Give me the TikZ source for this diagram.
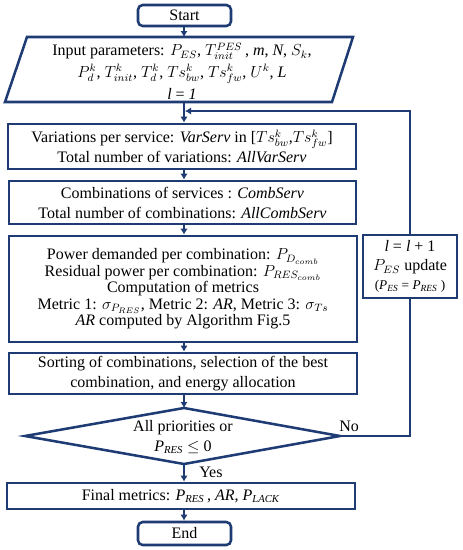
\documentclass[tikz,border=0pt]{standalone}
\usepackage{fontspec}
\setmainfont{Liberation Serif}
\usetikzlibrary{arrows.meta,calc}
\definecolor{navy}{HTML}{1F3B73}
\begin{document}
\begin{tikzpicture}[x=0.75pt,y=-0.75pt,
  box/.style={draw=navy,line width=1.9pt,fill=white,align=center,inner sep=0pt,font=\fontsize{12}{15}\selectfont},
  term/.style={box,rounded corners=3.5pt},
  txt/.style={align=center,inner sep=0pt,font=\fontsize{12}{15}\selectfont},
  conn/.style={draw=navy,line width=1.5pt},
  arr/.style={conn,-{Latex[length=4.5pt,width=5.5pt]}},
  lbl/.style={inner sep=0pt,font=\fontsize{12}{13}\selectfont}]
\useasboundingbox (0,0) rectangle (463,550);
\coordinate (col) at (184,0);
% terminals
\node[term,minimum width=69.75pt,minimum height=15.75pt] (start) at (184.5,15.5) {Start};
% input parallelogram
\coordinate (p1) at (27,37);
\coordinate (p2) at (353,37);
\coordinate (p3) at (332,102);
\coordinate (p4) at (5,102);
\draw[navy,line width=1.9pt,line join=miter] (p1) -- (p2) -- (p3) -- (p4) -- cycle;
\coordinate (inptop) at (184,37);
\coordinate (inpbot) at (184,102);
\node[txt,font=\fontsize{12}{16.2}\selectfont] (inp) at (182,71)
  {Input parameters: $P_{ES}$, $T_{init}^{PES}$\,, \textit{m}, \textit{N}, $S_k$,\\
   $P_d^k$, $T_{init}^k$, $T_d^k$, $Ts_{bw}^k$, $Ts_{fw}^k$, $U^k$, \textit{L}\\
   \textit{l} = \textit{1}};
% process boxes
\node[box,minimum width=261pt,minimum height=33.75pt] (var) at (182,146.5)
  {Variations per service: \textit{VarServ} in [$Ts_{bw}^k$,$Ts_{fw}^k$]\\
   Total number of variations: \textit{AllVarServ}};
\node[box,minimum width=260.25pt,minimum height=32.25pt] (comb) at (182.5,202.5)
  {Combinations of services : \textit{CombServ}\\
   Total number of combinations: \textit{AllCombServ}};
\node[box,minimum width=261pt,minimum height=79.5pt,font=\fontsize{12}{12.4}\selectfont] (pow) at (183,289)
  {Power demanded per combination: $P_{D_{comb}}$\\
   Residual power per combination: $P_{RES_{comb}}$\\
   Computation of metrics\\
   Metric 1: $\sigma_{P_{RES}}$, Metric 2: \textit{AR}, Metric 3: $\sigma_{Ts}$\\
   \textit{AR} computed by Algorithm Fig.5};
\node[box,minimum width=70.5pt,minimum height=47.25pt,font=\fontsize{12}{14.2}\selectfont] (upd) at (410,266.5)
  {\textit{l} = \textit{l} + 1\\
   $P_{ES}$ update\\
   {\fontsize{10}{11}\selectfont(\textit{P}\textsubscript{\textit{ES}} = \textit{P}\textsubscript{\textit{RES}} )}};
\node[box,minimum width=261pt,minimum height=30.75pt] (sort) at (183,373.5)
  {Sorting of combinations, selection of the best\\
   combination, and energy allocation};
% decision diamond
\coordinate (dl) at (25,436);
\coordinate (dr) at (340,436);
\coordinate (dt) at (184,408);
\coordinate (db) at (184,464);
\draw[navy,line width=1.9pt,line join=miter] (dl) -- (dt) -- (dr) -- (db) -- cycle;
\node[txt] (dec) at (183,437)
  {All priorities or\\ \textit{P}\textsubscript{\textit{RES}} $\leq$ 0};
\node[box,minimum width=261pt,minimum height=19.5pt] (final) at (181,496)
  {Final metrics: \textit{P}\textsubscript{\textit{RES}}\,, \textit{AR}, \textit{P}\textsubscript{\textit{LACK}}};
\node[term,minimum width=69.75pt,minimum height=17.25pt] (end) at (184.5,533.5) {End};
% main flow
\draw[arr] (start.south -| col) -- (inptop);
\draw[arr] (inpbot) -- (var.north -| col);
\draw[arr] (var.south -| col) -- (comb.north -| col);
\draw[arr] (comb.south -| col) -- (pow.north -| col);
\draw[arr] (pow.south -| col) -- (sort.north -| col);
\draw[arr] (sort.south -| col) -- (dt);
\draw[arr] (db) -- (final.north -| col);
\draw[arr] (final.south -| col) -- (end.north -| col);
% feedback loop
\coordinate (fb) at (184,111);
\draw[conn] (dr) -- (dr -| upd) -- (upd.south);
\draw[arr] (upd.north) -- (upd.north |- fb) -- ($(fb)+(1,0)$);
% labels
\node[lbl,anchor=south west] (no) at (339,432) {No};
\node[lbl,anchor=west] (yes) at (199,472) {Yes};
\end{tikzpicture}
\end{document}
